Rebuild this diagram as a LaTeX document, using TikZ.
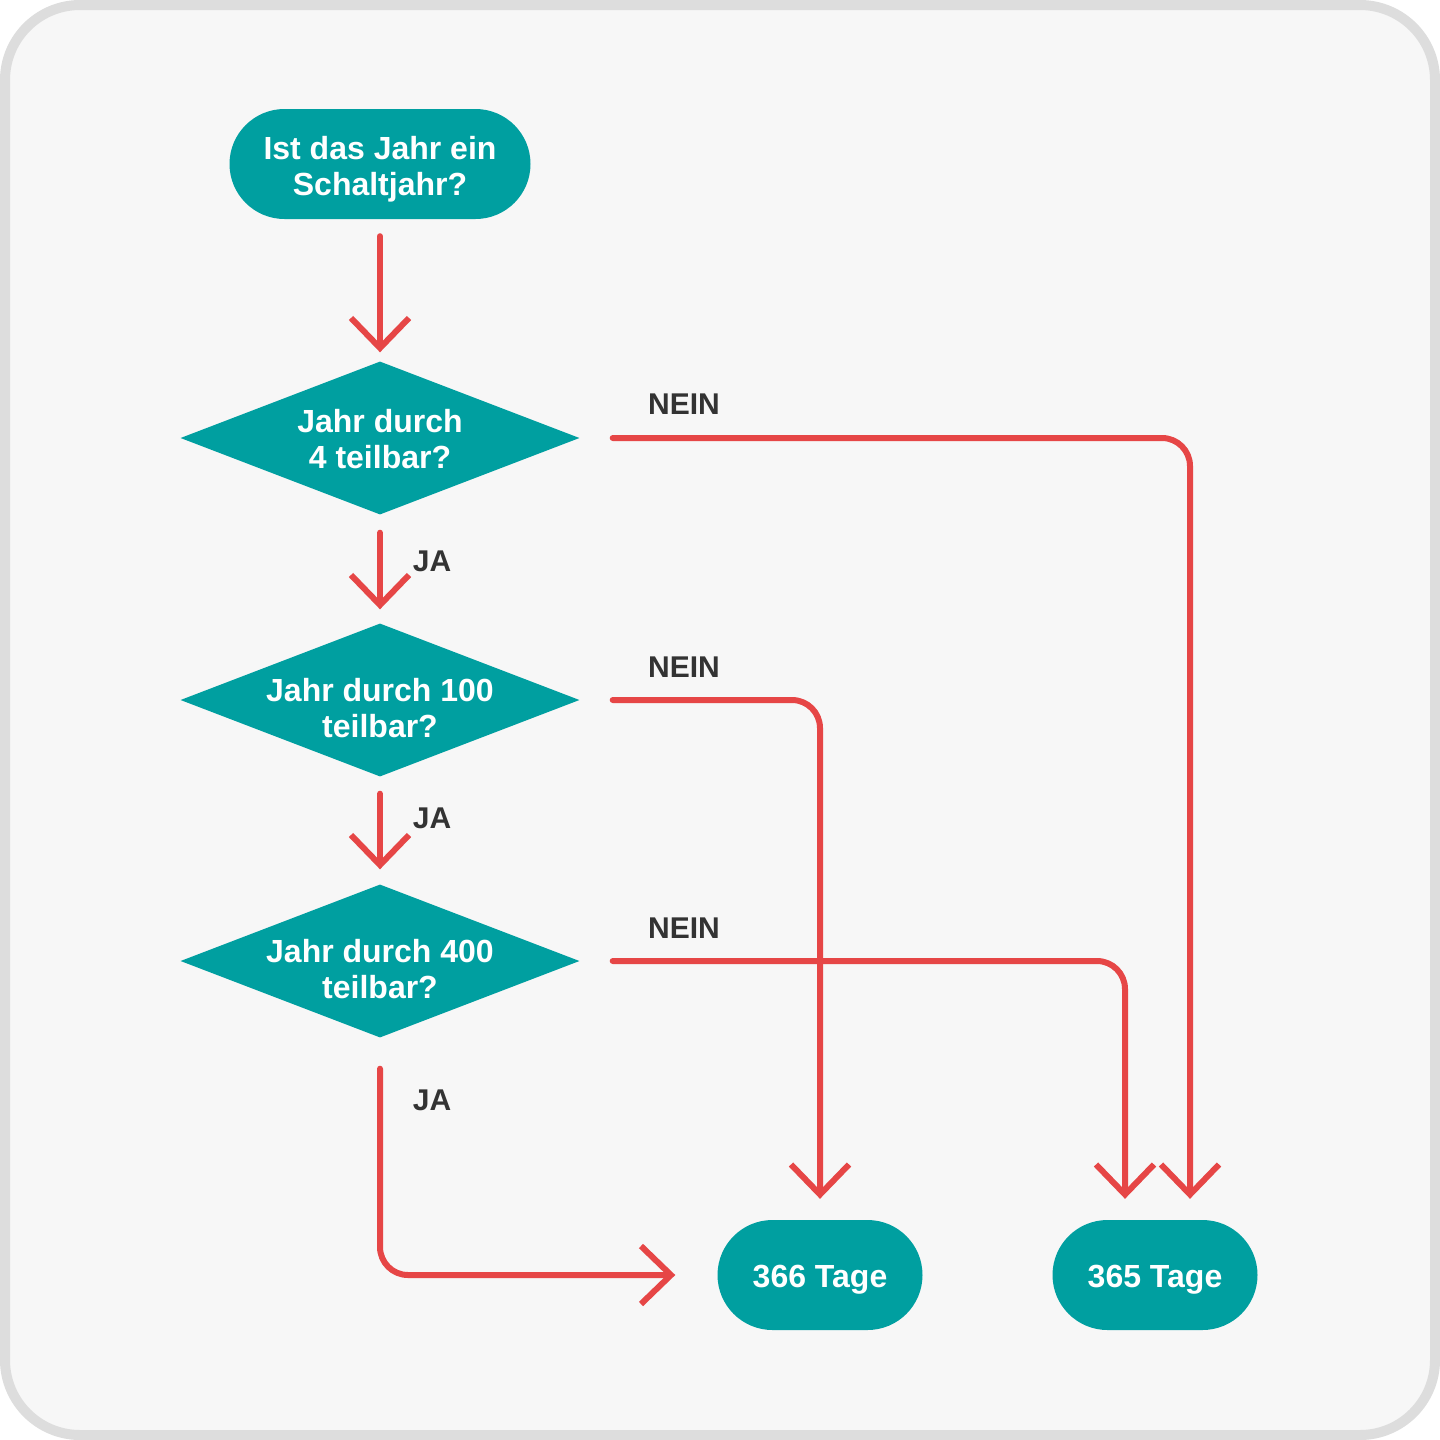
\documentclass[tikz,border=0pt]{standalone}
\usepackage{fontspec}
\setmainfont{Liberation Sans}
\usetikzlibrary{arrows.meta,shapes.geometric,calc}
\definecolor{bgc}{HTML}{F7F7F7}
\definecolor{framec}{HTML}{DDDDDD}
\definecolor{tealc}{HTML}{009FA0}
\definecolor{redc}{HTML}{E64646}
\definecolor{labc}{HTML}{333333}
\begin{document}
\begin{tikzpicture}[x=1pt,y=-1pt,
  txt/.style={text=white,font=\fontsize{32}{36}\selectfont\bfseries,align=center},
  pill/.style={fill=tealc,draw=none,rectangle,rounded corners=55pt,minimum height=110pt,inner sep=0pt},
  dec/.style={diamond,fill=tealc,draw=none,minimum width=399pt,minimum height=153pt,inner sep=0pt},
  lab/.style={text=labc,font=\fontsize{30}{34}\selectfont\bfseries},
  conn/.style={draw=redc,line width=6pt,line cap=round,rounded corners=28pt,
    -{Straight Barb[length=30pt,width=58pt]}}
]
\useasboundingbox (0,0) rectangle (1440,1440);
\draw[fill=bgc,draw=framec,line width=10pt,rounded corners=75pt] (5,5) rectangle (1435,1435);

\node[pill,minimum width=301pt,label={[txt,yshift=-5pt]center:Ist das Jahr ein\\Schaltjahr?}] (s) at (380,164) {};
\node[dec,label={[txt,yshift=-1pt]center:Jahr durch\\4 teilbar?}] (d1) at (380,438) {};
\node[dec,label={[txt,yshift=-8pt]center:Jahr durch 100\\teilbar?}] (d2) at (380,700) {};
\node[dec,label={[txt,yshift=-8pt]center:Jahr durch 400\\teilbar?}] (d3) at (380,961) {};
\node[pill,minimum width=205pt,label={[txt,yshift=-5pt]center:366 Tage}] (r366) at (820,1275) {};
\node[pill,minimum width=205pt,label={[txt,yshift=-5pt]center:365 Tage}] (r365) at (1155,1275) {};

\draw[conn,shorten <=17pt,shorten >=9pt] (s) -- (d1);
\draw[conn,shorten <=18pt,shorten >=14pt] (d1) -- (d2);
\draw[conn,shorten <=17pt,shorten >=15pt] (d2) -- (d3);

\draw[conn,shorten <=33pt,shorten >=21pt] (d1.east) -| ([xshift=35pt]r365.north);
\draw[conn,shorten <=33pt,shorten >=21pt] (d2.east) -| (r366.north);
\draw[conn,shorten <=33pt,shorten >=21pt] (d3.east) -| ([xshift=-30pt]r365.north);
\draw[conn,shorten <=31pt,shorten >=42pt] (d3.south) |- (r366.west);

\node[lab] (n1) at (684,404) {NEIN};
\node[lab] (n2) at (684,667) {NEIN};
\node[lab] (n3) at (684,928) {NEIN};
\node[lab] (j1) at (432,561) {JA};
\node[lab] (j2) at (432,818) {JA};
\node[lab] (j3) at (432,1100) {JA};
\end{tikzpicture}
\end{document}
